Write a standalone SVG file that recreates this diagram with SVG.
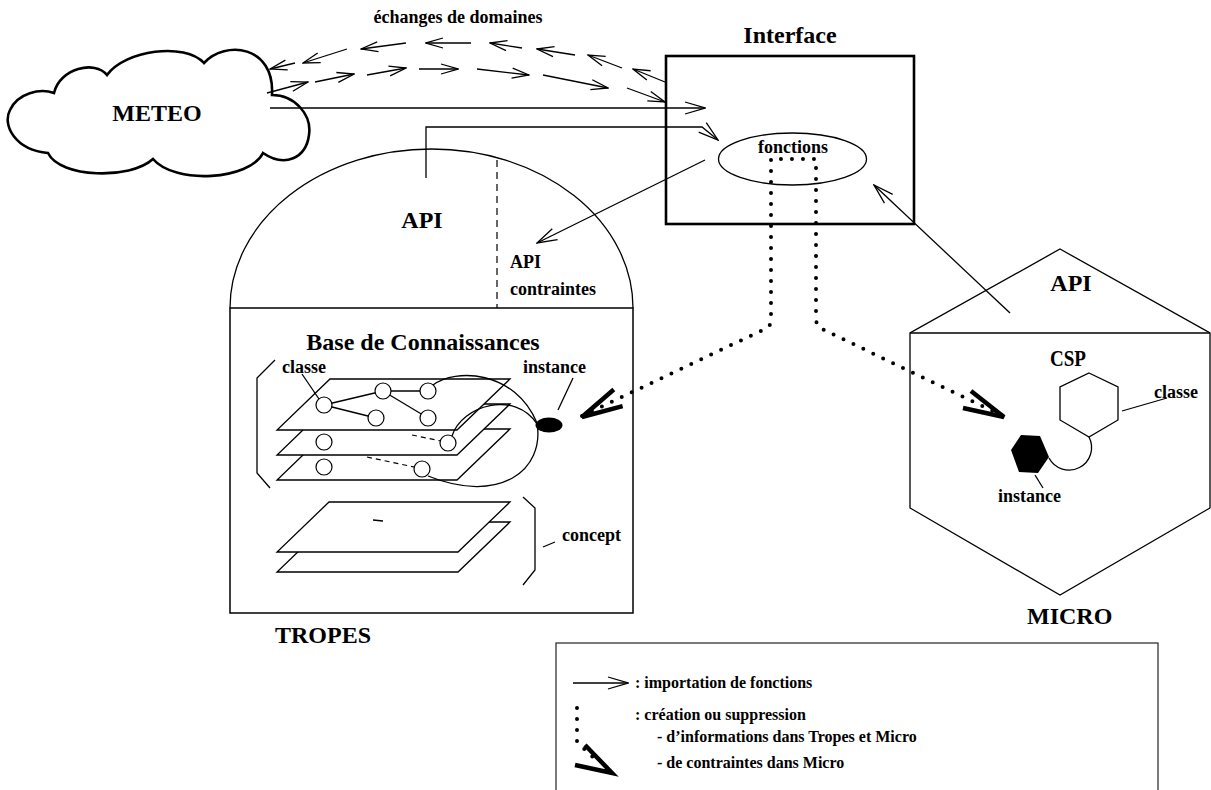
<svg xmlns="http://www.w3.org/2000/svg" width="1211" height="790" viewBox="0 0 1211 790">
<defs>
<style>
text{font-family:"Liberation Serif","Times New Roman",serif;font-weight:bold;fill:#000}
.big{font-size:24px}
.sm{font-size:18px}
.lg{font-size:16px}
.ln{fill:none;stroke:#000;stroke-width:1.3}
.thick{fill:none;stroke:#000;stroke-width:2.6}
.dot{fill:none;stroke:#000;stroke-width:4;stroke-linecap:round;stroke-dasharray:0 11}
.dash{fill:none;stroke:#000;stroke-width:1.2;stroke-dasharray:5 4}
.plane{fill:#fff;stroke:#000;stroke-width:1.3}
.circ{fill:#fff;stroke:#000;stroke-width:1.2}
.head{fill:none;stroke:#000;stroke-width:4.5}
.arr{marker-end:url(#arr)}
.arrs{marker-end:url(#arrS)}
</style>
<marker id="arr" viewBox="0 0 22 14" refX="21" refY="7" markerWidth="22" markerHeight="14" markerUnits="userSpaceOnUse" orient="auto"><path d="M1,1 L21,7 L1,13" fill="none" stroke="#000" stroke-width="1.3"/></marker>
<marker id="arrS" viewBox="0 0 19 12" refX="18" refY="6" markerWidth="19" markerHeight="12" markerUnits="userSpaceOnUse" orient="auto"><path d="M1,1 L18,6 L1,11" fill="none" stroke="#000" stroke-width="1.3"/></marker>
</defs>
<rect width="1211" height="790" fill="#fff"/>

<g id="meteo">
<path class="thick" fill="#fff" d="M54,93 C60,68 95,60 107,75 C125,50 185,42 204,63 C225,40 275,45 272,95 C295,95 312,115 309,135 C306,158 285,168 263,153 C250,180 175,185 153,159 C130,180 60,178 48,153 C15,150 2,125 10,110 C18,93 40,88 54,93 Z" style="fill:#fff"/>
<text class="big" x="157" y="121" text-anchor="middle">METEO</text>
</g>

<text id="label-echanges" class="sm" x="458" y="23" text-anchor="middle">échanges de domaines</text>

<g id="interface">
<text class="big" x="790" y="43" text-anchor="middle">Interface</text>
<rect class="thick" x="666" y="56" width="248" height="168"/>
<ellipse class="ln" cx="792.5" cy="159" rx="74" ry="26"/>
<text class="sm" x="793" y="153" text-anchor="middle">fonctions</text>
</g>

<g id="tropes">
<path class="ln" d="M230,308 A201.5,159 0 0 1 633,308"/>
<line x1="497" y1="160" x2="497" y2="308" fill="none" stroke="#000" stroke-width="1.2" stroke-dasharray="7 5"/>
<text class="big" x="422" y="228" text-anchor="middle">API</text>
<text class="sm" x="510" y="268">API</text>
<text class="sm" x="510" y="295">contraintes</text>
<rect class="ln" x="230" y="308" width="403" height="305" style="stroke-width:1.5"/>
<text class="big" x="423" y="350" text-anchor="middle">Base de Connaissances</text>
<polygon class="plane" points="330,429 510,429 457,480 277,480"/>
<polygon class="plane" points="330,404 510,404 457,455 277,455"/>
<polygon class="plane" points="330,379 510,379 457,430 277,430"/>
<line class="dash" x1="412" y1="435" x2="441" y2="441"/>
<line class="dash" x1="367" y1="457" x2="414" y2="467"/>
<g class="ln">
<line x1="324" y1="405" x2="383" y2="391"/>
<line x1="324" y1="405" x2="376" y2="418"/>
<line x1="383" y1="391" x2="428" y2="391"/>
<line x1="383" y1="391" x2="428" y2="418"/>
</g>
<g class="circ">
<circle cx="324" cy="405" r="8"/>
<circle cx="383" cy="391" r="8"/>
<circle cx="428" cy="391" r="8"/>
<circle cx="376" cy="418" r="8"/>
<circle cx="428" cy="418" r="8"/>
<circle cx="324" cy="442" r="8"/>
<circle cx="448" cy="443" r="8"/>
<circle cx="324" cy="467" r="8"/>
<circle cx="422" cy="469" r="8"/>
</g>
<path class="ln" d="M433,385 C455,368 515,370 537,423"/>
<path class="ln" d="M537,423 C545,470 500,505 428,476"/>
<path class="ln" d="M452,436 C462,405 515,390 537,424"/>
<ellipse cx="549" cy="425" rx="13.5" ry="7.5" fill="#000"/>
<line class="ln" x1="573" y1="378" x2="558" y2="410"/>
<text class="sm" x="523" y="373">instance</text>
<text class="sm" x="282" y="373">classe</text>
<line class="ln" x1="302" y1="374" x2="319" y2="399"/>
<polyline class="ln" points="275,360 257,378 257,473 270,488"/>
<polygon class="plane" points="329,522 510,522 458,572 277,572"/>
<polygon class="plane" points="329,502 510,502 458,552 277,552"/>
<line class="ln" x1="373" y1="520" x2="383" y2="521"/>
<polyline class="ln" points="523,497 535,508 535,570 523,585"/>
<line class="ln" x1="543" y1="547" x2="555" y2="542"/>
<text class="sm" x="562" y="541">concept</text>
<text class="big" x="275" y="643">TROPES</text>
</g>

<g id="micro">
<polygon class="ln" points="1060,249 1210,333 1210,508 1060,595 910,508 910,333"/>
<line class="ln" x1="910" y1="333" x2="1210" y2="333"/>
<text class="big" x="1071" y="291" text-anchor="middle">API</text>
<text class="big" x="1050" y="366" textLength="36" lengthAdjust="spacingAndGlyphs">CSP</text>
<polygon class="ln" points="1089,373 1118,387 1118,420 1089,437 1060,420 1060,387"/>
<polygon points="1011,450 1021,435 1040,436 1049,457 1038,473 1019,472" fill="#000"/>
<path class="ln" d="M1049,458 A22,22 0 0 0 1089,437"/>
<line class="ln" x1="1122" y1="411" x2="1167" y2="398"/>
<text class="sm" x="1154" y="398">classe</text>
<line class="ln" x1="1035" y1="475" x2="1043" y2="488"/>
<text class="sm" x="998" y="502">instance</text>
<text class="big" x="1027" y="624">MICRO</text>
</g>

<g id="connectors">
<path class="ln arr" d="M270,108 L705,108"/>
<path class="ln arr" d="M426,178 L426,127 L702,127 L718,140"/>
<path class="ln arr" d="M705,160 L537,243"/>
<path class="ln arr" d="M1010,313 L874,185"/>
<g class="ln arrs">
<line x1="665" y1="82" x2="633" y2="69"/>
<line x1="622" y1="68" x2="588" y2="55"/>
<line x1="575" y1="55" x2="537" y2="49"/>
<line x1="522" y1="48" x2="490" y2="43"/>
<line x1="471" y1="43" x2="426" y2="43"/>
<line x1="406" y1="43" x2="361" y2="49"/>
<line x1="347" y1="49" x2="303" y2="63"/>
<line x1="295" y1="63" x2="270" y2="69"/>
<line x1="267" y1="93" x2="308" y2="82"/>
<line x1="315" y1="82" x2="354" y2="74"/>
<line x1="367" y1="75" x2="406" y2="68"/>
<line x1="419" y1="69" x2="458" y2="69"/>
<line x1="477" y1="69" x2="529" y2="75"/>
<line x1="543" y1="75" x2="608" y2="88"/>
<line x1="627" y1="88" x2="665" y2="102"/>
</g>
<path class="dot" d="M582,416 L767,328 Q771,326 771,318 L771,159 L816,159 L816,318 Q816,326 822,329 L1003,416"/>
<path class="head" d="M613.8,389.5 L582,417 L622.6,406.2"/>
<path class="head" d="M971,391 L1004,417 L963,408"/>
</g>

<g id="legend">
<rect x="556" y="643" width="602" height="170" fill="none" stroke="#333" stroke-width="1.3"/>
<path class="ln arr" d="M573,683 L628,683"/>
<text class="lg" x="635" y="688">: importation de fonctions</text>
<path class="dot" d="M577,708 L577,742 L596,760"/>
<path class="head" d="M585,745 L612,773 L575,765"/>
<text class="lg" x="635" y="720">: création ou suppression</text>
<text class="lg" x="657" y="742">- d’informations dans Tropes et Micro</text>
<text class="lg" x="657" y="768">- de contraintes dans Micro</text>
</g>
</svg>
